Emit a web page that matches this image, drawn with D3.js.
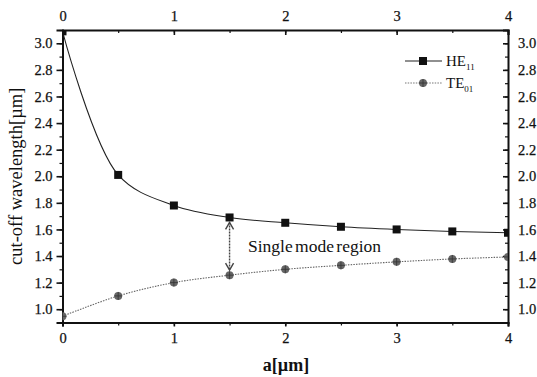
<!DOCTYPE html>
<html>
<head>
<meta charset="utf-8">
<script src="https://cdn.jsdelivr.net/npm/d3@7"></script>
<style>
  html, body { margin: 0; padding: 0; background: #fff; }
</style>
</head>
<body>
<svg id="chart" width="537" height="377"></svg>
<script>
// Core radius a (µm) and cut-off wavelengths (µm) for the two modes
const radius = [0, 0.5, 1, 1.5, 2, 2.5, 3, 3.5, 4];
const he11 = [3.09, 2.01, 1.78, 1.69, 1.65, 1.62, 1.60, 1.585, 1.575];
const te01 = [0.947, 1.10, 1.20, 1.256, 1.30, 1.33, 1.356, 1.378, 1.393];
const xTicks = [0, 1, 2, 3, 4];
const yTicks = [1.0, 1.2, 1.4, 1.6, 1.8, 2.0, 2.2, 2.4, 2.6, 2.8, 3.0];
const regionAt = 1.5;

const FONT = "'Liberation Serif', 'DejaVu Serif', serif";
const svg = d3.select("#chart");
const pl = 62.5, pr = 508, pt = 30, pb = 322.5;

const x = d3.scaleLinear().domain([0, 4]).range([pl, pr]);
const y = d3.scaleLinear().domain([0.9, 3.1]).range([pb, pt]);

svg.append("defs").append("clipPath").attr("id", "plot")
  .append("rect").attr("x", pl).attr("y", pt)
  .attr("width", pr - pl).attr("height", pb - pt);

// Axes: major/minor ticks on all four sides
const fmt = d3.format(".1f");
const minorY = d3.range(0.9, 3.1001, 0.1);
const minorX = d3.range(0, 4.001, 0.5);

function frameAxis(axis, transform) {
  const g = svg.append("g").attr("transform", transform).call(axis);
  g.attr("font-family", null);
  g.select(".domain").attr("stroke", "#111").attr("stroke-width", 2);
  g.selectAll(".tick line").attr("stroke", "#111").attr("stroke-width", 1.6);
  g.selectAll("text").style("font-size", "14.5px")
    .attr("stroke", "#111").attr("stroke-width", 0.25);
  return g;
}
function minorAxis(axis, transform) {
  svg.append("g").attr("transform", transform).call(axis)
    .call(g => { g.select(".domain").remove(); g.selectAll("line").attr("stroke", "#111").attr("stroke-width", 1.2); });
}

// Left
frameAxis(d3.axisLeft(y).tickValues(yTicks).tickFormat(fmt).tickSize(6).tickPadding(4), `translate(${pl},0)`);
minorAxis(d3.axisLeft(y).tickValues(minorY).tickSize(3).tickFormat(""), `translate(${pl},0)`);
// Right (ticks point inward)
frameAxis(d3.axisRight(y).tickValues(yTicks).tickFormat(fmt).tickSize(-5).tickPadding(10), `translate(${pr},0)`);
minorAxis(d3.axisRight(y).tickValues(minorY).tickSize(-3).tickFormat(""), `translate(${pr},0)`);
// Bottom
frameAxis(d3.axisBottom(x).tickValues(xTicks).tickFormat(d3.format("d")).tickSize(4).tickPadding(6), `translate(0,${pb})`);
minorAxis(d3.axisBottom(x).tickValues(minorX).tickSize(3).tickFormat(""), `translate(0,${pb})`);
// Top (ticks point inward)
frameAxis(d3.axisTop(x).tickValues(xTicks).tickFormat(d3.format("d")).tickSize(-5).tickPadding(9), `translate(0,${pt})`);
minorAxis(d3.axisTop(x).tickValues(minorX).tickSize(-3).tickFormat(""), `translate(0,${pt})`);

// Axis titles
svg.append("text")
  .attr("transform", `translate(22,${(pt + pb) / 2}) rotate(-90)`)
  .attr("text-anchor", "middle")
  .style("font-size", "18.5px")
  .text("cut-off wavelength[µm]");
svg.append("text")
  .attr("x", 286).attr("y", 371)
  .attr("text-anchor", "middle")
  .style("font-size", "18px").style("font-weight", "bold")
  .text("a[µm]");

// Curves
const plot = svg.append("g").attr("clip-path", "url(#plot)");
const line = d3.line().x(d => x(d[0])).y(d => y(d[1])).curve(d3.curveCatmullRom.alpha(0.5));
const heData = radius.map((r, i) => [r, he11[i]]);
const teData = radius.map((r, i) => [r, te01[i]]);

plot.append("path").datum(heData).attr("d", line)
  .attr("fill", "none").attr("stroke", "#222").attr("stroke-width", 1.1);
plot.append("path").datum(teData).attr("d", line)
  .attr("fill", "none").attr("stroke", "#666").attr("stroke-width", 1.1)
  .attr("stroke-dasharray", "1.5,1.2");

// Markers
function square(g, cx, cy, s) {
  g.append("rect").attr("x", cx - s / 2).attr("y", cy - s / 2)
    .attr("width", s).attr("height", s).attr("fill", "#111");
}
function crossCircle(g, cx, cy, r) {
  g.append("circle").attr("cx", cx).attr("cy", cy).attr("r", r).attr("fill", "#666");
  g.append("path").attr("d", `M${cx - r},${cy}H${cx + r}M${cx},${cy - r}V${cy + r}`)
    .attr("stroke", "#333").attr("stroke-width", 0.8);
}
heData.forEach(d => square(plot, x(d[0]), y(d[1]), 8));
teData.forEach(d => crossCircle(plot, x(d[0]), y(d[1]), 4));

// Double arrow marking the single-mode gap
const ax = x(regionAt);
const iA = radius.indexOf(regionAt);
const yA = y(he11[iA]) + 5, yB = y(te01[iA]) - 5;
const arrow = svg.append("g").attr("fill", "none").attr("stroke", "#444").attr("stroke-width", 1.4);
arrow.append("path").attr("d", `M${ax},${yA}V${yB}`).attr("stroke-dasharray", "2,1");
arrow.append("path").attr("d", `M${ax - 4},${yA + 7}L${ax},${yA}L${ax + 4},${yA + 7}`);
arrow.append("path").attr("d", `M${ax - 4},${yB - 7}L${ax},${yB}L${ax + 4},${yB - 7}`);

svg.append("text").attr("x", 248).attr("y", 252)
  .style("font-size", "17.5px").attr("word-spacing", "-2px").text("Single mode region");

// Legend
const legend = [
  { label: "HE", sub: "11", y: 61, kind: "square" },
  { label: "TE", sub: "01", y: 83, kind: "circle" }
];
legend.forEach(l => {
  const g = svg.append("g");
  g.append("line").attr("x1", 405).attr("x2", 442).attr("y1", l.y).attr("y2", l.y)
    .attr("stroke", l.kind === "square" ? "#222" : "#777")
    .attr("stroke-width", 1.1)
    .attr("stroke-dasharray", l.kind === "square" ? null : "1.5,1.2");
  if (l.kind === "square") square(g, 423, l.y, 8); else crossCircle(g, 423, l.y, 4);
  const t = g.append("text").attr("x", 446).attr("y", l.y + 5).style("font-size", "15px");
  t.append("tspan").text(l.label);
  t.append("tspan").attr("dy", 4).style("font-size", "9px").text(l.sub);
});

// Serif type throughout
svg.selectAll("text").style("font-family", FONT).attr("fill", "#111");
</script>
</body>
</html>
